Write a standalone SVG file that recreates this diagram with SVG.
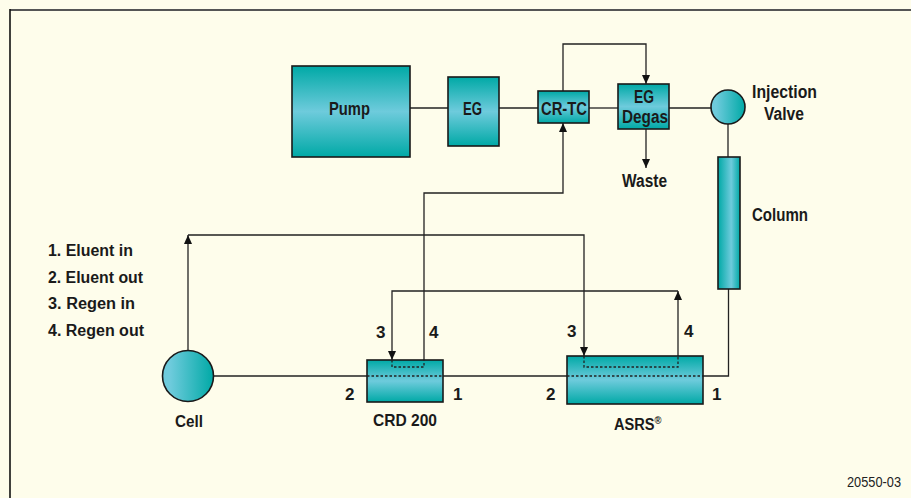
<svg xmlns="http://www.w3.org/2000/svg" width="911" height="498" viewBox="0 0 911 498">
<defs>
<linearGradient id="gV" x1="0" y1="0" x2="0" y2="1">
<stop offset="0" stop-color="#00a9a6"/>
<stop offset="0.5" stop-color="#6ecbdc"/>
<stop offset="1" stop-color="#00a9a6"/>
</linearGradient>
<linearGradient id="gH" x1="0" y1="0" x2="1" y2="0">
<stop offset="0" stop-color="#00a9a6"/>
<stop offset="0.6" stop-color="#6ecbdc"/>
<stop offset="1" stop-color="#00a9a6"/>
</linearGradient>
<linearGradient id="gC" x1="0" y1="0" x2="1" y2="0">
<stop offset="0.15" stop-color="#6ecbdc"/>
<stop offset="1" stop-color="#00a9a6"/>
</linearGradient>
<marker id="ah" markerUnits="userSpaceOnUse" markerWidth="9" markerHeight="8" refX="9" refY="4" orient="auto">
<path d="M0,0 L9,4 L0,8 z" fill="#111"/>
</marker>
<style>
.box{stroke:#1a1a1a;stroke-width:1.6}
.ln{fill:none;stroke:#222;stroke-width:1.3}
.dot{fill:none;stroke:#222;stroke-width:1.3;stroke-dasharray:2.5,2}
.t{font-family:"Liberation Sans",Arial,sans-serif;font-weight:bold;fill:#1a1a1a}
.t18{font-size:18px}
.t16{font-size:16px}
.t17{font-size:17px}
</style>
</defs>
<rect x="0" y="0" width="911" height="498" fill="#fefdeb"/>
<line x1="10" y1="10" x2="911" y2="10" stroke="#555" stroke-width="2"/>
<line x1="10" y1="9" x2="10" y2="498" stroke="#111" stroke-width="1.6"/>

<g id="connectors">
<line class="ln" x1="410" y1="108" x2="448" y2="108"/>
<line class="ln" x1="499" y1="108" x2="538" y2="108"/>
<line class="ln" x1="589" y1="108" x2="618" y2="108"/>
<line class="ln" x1="669" y1="108" x2="711" y2="108"/>
<polyline class="ln" points="563,91 563,44 646,44 646,84" marker-end="url(#ah)"/>
<line class="ln" x1="646" y1="129" x2="646" y2="168" marker-end="url(#ah)"/>
<line class="ln" x1="728" y1="124" x2="728" y2="157"/>
<polyline class="ln" points="728.5,289 728.5,376 703,376"/>
<line class="ln" x1="443" y1="376" x2="567" y2="376"/>
<line class="ln" x1="214" y1="376" x2="367" y2="376"/>
<polyline class="ln" points="424,360 424,193 563,193 563,123" marker-end="url(#ah)"/>
<line class="ln" x1="188" y1="350" x2="188" y2="235" marker-end="url(#ah)"/>
<polyline class="ln" points="188,235 584,235 584,356" marker-end="url(#ah)"/>
<polyline class="ln" points="678,356 678,291" marker-end="url(#ah)"/>
<polyline class="ln" points="678,291 392,291 392,360" marker-end="url(#ah)"/>
</g>

<g id="pump">
<rect class="box" x="292" y="66" width="118" height="91" fill="url(#gV)"/>
<text class="t t18" x="329" y="115" textLength="41" lengthAdjust="spacingAndGlyphs">Pump</text>
</g>
<g id="eg">
<rect class="box" x="448" y="77" width="51" height="69" fill="url(#gV)"/>
<text class="t t18" x="463" y="115" textLength="19" lengthAdjust="spacingAndGlyphs">EG</text>
</g>
<g id="crtc">
<rect class="box" x="538" y="91" width="51" height="32" fill="url(#gV)"/>
<text class="t t18" x="541" y="115" textLength="46" lengthAdjust="spacingAndGlyphs">CR-TC</text>
</g>
<g id="egdegas">
<rect class="box" x="618" y="84" width="51" height="45" fill="url(#gV)"/>
<text class="t t18" x="634" y="103" textLength="20" lengthAdjust="spacingAndGlyphs">EG</text>
<text class="t t18" x="622" y="123" textLength="46" lengthAdjust="spacingAndGlyphs">Degas</text>
</g>
<g id="waste">
<text class="t t18" x="622" y="187" textLength="45" lengthAdjust="spacingAndGlyphs">Waste</text>
</g>
<g id="injection-valve">
<circle class="box" cx="728" cy="107" r="17" fill="url(#gC)"/>
<text class="t t18" x="752" y="98" textLength="65" lengthAdjust="spacingAndGlyphs">Injection</text>
<text class="t t18" x="764" y="120" textLength="40" lengthAdjust="spacingAndGlyphs">Valve</text>
</g>
<g id="column">
<rect class="box" x="718" y="157" width="22" height="132" fill="url(#gH)"/>
<text class="t t18" x="752" y="221" textLength="56" lengthAdjust="spacingAndGlyphs">Column</text>
</g>
<g id="cell">
<circle class="box" cx="188" cy="376" r="25.5" fill="url(#gC)" stroke-width="2"/>
<text class="t t17" x="175" y="427" textLength="28" lengthAdjust="spacingAndGlyphs">Cell</text>
</g>
<g id="crd200">
<rect class="box" x="367" y="360" width="76" height="42" fill="url(#gV)"/>
<line class="dot" x1="367" y1="376" x2="443" y2="376"/>
<polyline class="dot" points="392,360 392,367 424,367 424,360"/>
<text class="t t17" x="373" y="426" textLength="64" lengthAdjust="spacingAndGlyphs">CRD 200</text>
<text class="t t17" x="376" y="338">3</text>
<text class="t t17" x="429" y="338">4</text>
<text class="t t17" x="345" y="400">2</text>
<text class="t t17" x="453" y="400">1</text>
</g>
<g id="asrs">
<rect class="box" x="567" y="356" width="136" height="48" fill="url(#gV)"/>
<line class="dot" x1="567" y1="376" x2="703" y2="376"/>
<polyline class="dot" points="584,356 584,367 678,367 678,356"/>
<text class="t t17" transform="translate(614,430) scale(0.86,1)">ASRS<tspan font-size="11" dy="-6">®</tspan></text>
<text class="t t17" x="567" y="337">3</text>
<text class="t t17" x="684" y="337">4</text>
<text class="t t17" x="546" y="400">2</text>
<text class="t t17" x="712" y="400">1</text>
</g>
<g id="legend">
<text class="t t16" x="48" y="256" textLength="85" lengthAdjust="spacingAndGlyphs">1. Eluent in</text>
<text class="t t16" x="48" y="283" textLength="95" lengthAdjust="spacingAndGlyphs">2. Eluent out</text>
<text class="t t16" x="48" y="309" textLength="87" lengthAdjust="spacingAndGlyphs">3. Regen in</text>
<text class="t t16" x="48" y="336" textLength="96" lengthAdjust="spacingAndGlyphs">4. Regen out</text>
</g>
<g id="figure-id">
<text x="847" y="487" font-family="'Liberation Sans',Arial,sans-serif" font-size="14" fill="#222" textLength="54" lengthAdjust="spacingAndGlyphs">20550-03</text>
</g>
</svg>
